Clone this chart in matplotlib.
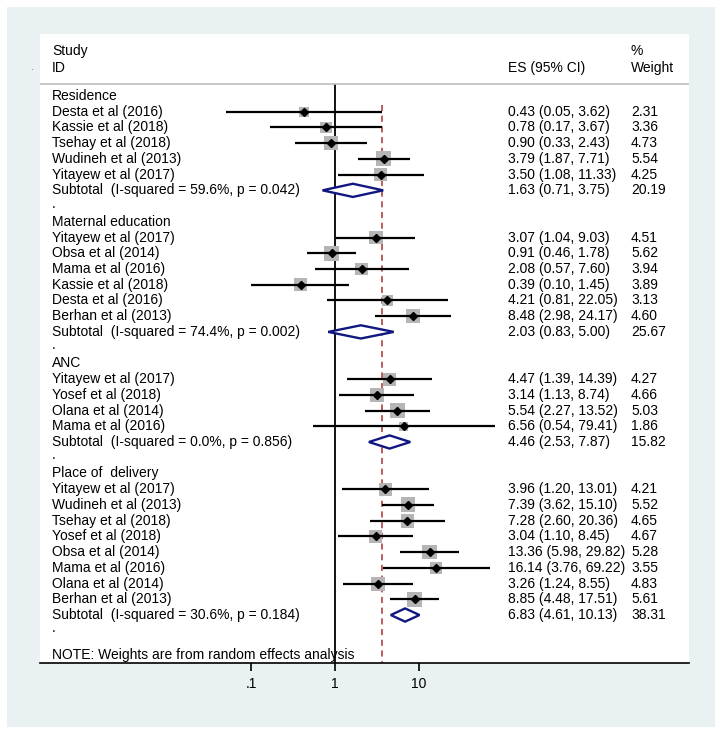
import matplotlib.pyplot as plt
from matplotlib.patches import Rectangle, Polygon

plt.rcParams["font.family"] = ["Liberation Sans", "DejaVu Sans"]

# ---- data ----
groups = ["Residence", "Maternal education", "ANC", "Place of  delivery"]

study_names = [
    ["Desta et al (2016)", "Kassie et al (2018)", "Tsehay et al (2018)",
     "Wudineh et al (2013)", "Yitayew et al (2017)"],
    ["Yitayew et al (2017)", "Obsa et al (2014)", "Mama et al (2016)",
     "Kassie et al (2018)", "Desta et al (2016)", "Berhan et al (2013)"],
    ["Yitayew et al (2017)", "Yosef et al (2018)", "Olana et al (2014)",
     "Mama et al (2016)"],
    ["Yitayew et al (2017)", "Wudineh et al (2013)", "Tsehay et al (2018)",
     "Yosef et al (2018)", "Obsa et al (2014)", "Mama et al (2016)",
     "Olana et al (2014)", "Berhan et al (2013)"],
]
study_es = [
    [0.43, 0.78, 0.90, 3.79, 3.50],
    [3.07, 0.91, 2.08, 0.39, 4.21, 8.48],
    [4.47, 3.14, 5.54, 6.56],
    [3.96, 7.39, 7.28, 3.04, 13.36, 16.14, 3.26, 8.85],
]
study_lo = [
    [0.05, 0.17, 0.33, 1.87, 1.08],
    [1.04, 0.46, 0.57, 0.10, 0.81, 2.98],
    [1.39, 1.13, 2.27, 0.54],
    [1.20, 3.62, 2.60, 1.10, 5.98, 3.76, 1.24, 4.48],
]
study_hi = [
    [3.62, 3.67, 2.43, 7.71, 11.33],
    [9.03, 1.78, 7.60, 1.45, 22.05, 24.17],
    [14.39, 8.74, 13.52, 79.41],
    [13.01, 15.10, 20.36, 8.45, 29.82, 69.22, 8.55, 17.51],
]
study_wt = [
    [2.31, 3.36, 4.73, 5.54, 4.25],
    [4.51, 5.62, 3.94, 3.89, 3.13, 4.60],
    [4.27, 4.66, 5.03, 1.86],
    [4.21, 5.52, 4.65, 4.67, 5.28, 3.55, 4.83, 5.61],
]
sub_i2 = [59.6, 74.4, 0.0, 30.6]
sub_p = [0.042, 0.002, 0.856, 0.184]
sub_es = [1.63, 2.03, 4.46, 6.83]
sub_lo = [0.71, 0.83, 2.53, 4.61]
sub_hi = [3.75, 5.00, 7.87, 10.13]
sub_wt = [20.19, 25.67, 15.82, 38.31]
overall_es = 3.6

x_ticks = [0.1, 1, 10]
x_ticklabels = [".1", "1", "10"]

# ---- figure ----
W, H = 725, 738
fig = plt.figure(figsize=(W / 100, H / 100), dpi=100)
fig.patches.append(Rectangle((7 / W, 11 / H), 708 / W, 720 / H,
                             transform=fig.transFigure, facecolor="#eaf1f3",
                             edgecolor="none", zorder=-1))
fig.text(33 / W, 1 - 67 / H, ".", fontsize=8, color="#777777",
         ha="center", va="center")

ax = fig.add_axes([40 / W, 1 - 663 / H, 649 / W, 629 / H])
ax.set_facecolor("white")
ax.set_xscale("log")
ax.set_xlim(10 ** -3.512, 10 ** 4.214)
ax.set_ylim(36.05, -3.94)

tr = ax.get_yaxis_transform()
fs = 10
x_lab, x_es, x_wt = 0.0185, 0.721, 0.9106

# header
ax.text(x_lab, -2.85, "Study", transform=tr, fontsize=fs, va="center")
ax.text(x_lab, -1.8, "ID", transform=tr, fontsize=fs, va="center")
ax.text(x_es, -1.8, "ES (95% CI)", transform=tr, fontsize=fs, va="center")
ax.text(x_wt, -2.85, "%", transform=tr, fontsize=fs, va="center")
ax.text(x_wt, -1.8, "Weight", transform=tr, fontsize=fs, va="center")
ax.plot([0, 1], [-0.76, -0.76], transform=tr, color="#bdbdbd", lw=1.2)

row = 0
for g in range(len(groups)):
    ax.text(x_lab, row, groups[g], transform=tr, fontsize=fs, va="center")
    row += 1
    for k in range(len(study_names[g])):
        es, lo, hi, wt = study_es[g][k], study_lo[g][k], study_hi[g][k], study_wt[g][k]
        ax.text(x_lab, row, study_names[g][k], transform=tr, fontsize=fs, va="center")
        ax.text(x_es, row, f"{es:.2f} ({lo:.2f}, {hi:.2f})", transform=tr,
                fontsize=fs, va="center")
        ax.text(x_wt, row, f"{wt:.2f}", transform=tr, fontsize=fs, va="center")
        ax.scatter([es], [row], marker="s", s=21 * wt, color="#b5b5b5",
                   edgecolors="none", zorder=2)
        ax.hlines(row, lo, hi, color="black", lw=1.6, zorder=3)
        ax.plot([es], [row], marker="D", markersize=4.4, color="black", zorder=4)
        row += 1
    # subtotal
    ax.text(x_lab, row,
            f"Subtotal  (I-squared = {sub_i2[g]:.1f}%, p = {sub_p[g]:.3f})",
            transform=tr, fontsize=fs, va="center")
    ax.text(x_es, row, f"{sub_es[g]:.2f} ({sub_lo[g]:.2f}, {sub_hi[g]:.2f})",
            transform=tr, fontsize=fs, va="center")
    ax.text(x_wt, row, f"{sub_wt[g]:.2f}", transform=tr, fontsize=fs, va="center")
    dia = Polygon([(sub_lo[g], row), (sub_es[g], row - 0.42),
                   (sub_hi[g], row), (sub_es[g], row + 0.42)],
                  closed=True, facecolor="white", edgecolor="#101880",
                  lw=1.7, zorder=4)
    ax.add_patch(dia)
    row += 1
    ax.text(x_lab, row - 0.15, ".", transform=tr, fontsize=fs, va="center")
    row += 1

ax.text(x_lab, 35.55, "NOTE: Weights are from random effects analysis",
        transform=tr, fontsize=fs, va="center")

# reference lines
ax.vlines(1, -0.76, 36.05, color="black", lw=1.3, zorder=1)
ax.vlines(overall_es, 0.6, 36.05, color="#a83232", lw=1.1,
          linestyles=(0, (4, 3)), zorder=1)

# axes styling
for s in ["top", "left", "right"]:
    ax.spines[s].set_visible(False)
ax.spines["bottom"].set_linewidth(1.2)
ax.set_yticks([])
ax.set_xticks(x_ticks)
ax.set_xticklabels(x_ticklabels)
ax.minorticks_off()
ax.tick_params(axis="x", length=6, width=1.2, pad=4, labelsize=fs)

fig.savefig("out.png", dpi=100, facecolor="white")
